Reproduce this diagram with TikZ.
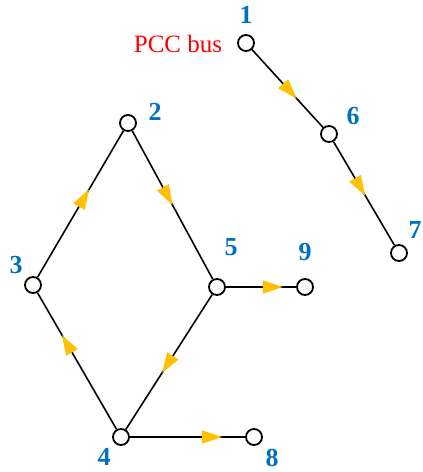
\documentclass[tikz,border=0pt]{standalone}
\usepackage{fontspec}
\setmainfont{Liberation Serif}
\usetikzlibrary{arrows.meta,decorations.markings}
\definecolor{numblue}{RGB}{0,112,192}
\definecolor{flowc}{RGB}{255,192,0}
\tikzset{
  bus/.style={circle,draw=black,line width=1.8pt,fill=white,minimum size=16pt,inner sep=0pt},
  num/.style={text=numblue,font=\fontsize{26}{26}\selectfont\bfseries,inner sep=0pt},
  line/.style={draw=black,line width=1.6pt},
  flowat/.style={postaction={decorate,decoration={markings,
     mark=at position #1 with {\arrow{Triangle[length=20pt,width=13pt,color=flowc,fill=flowc]}}}}}
}
\begin{document}
\begin{tikzpicture}[x=1pt,y=-1pt]
\useasboundingbox (0,0) rectangle (423,472);
% buses
\node[bus] (n1) at (246,43) {};
\node[bus] (n6) at (329,134) {};
\node[bus] (n7) at (399,253) {};
\node[bus] (n2) at (128,123) {};
\node[bus] (n3) at (33,285) {};
\node[bus] (n5) at (217,287) {};
\node[bus] (n9) at (305,287) {};
\node[bus] (n4) at (121,437) {};
\node[bus] (n8) at (254,437) {};
% connectors
\draw[line,flowat=0.63] (n1) -- (n6);
\draw[line,flowat=0.52] (n6) -- (n7);
\draw[line,flowat=0.60] (n3) -- (n2);
\draw[line,flowat=0.50] (n2) -- (n5);
\draw[line,flowat=0.58] (n5) -- (n4);
\draw[line,flowat=0.69] (n4) -- (n3);
\draw[line,flowat=0.80] (n4) -- (n8);
\draw[line,flowat=0.81] (n5) -- (n9);
% labels
\node[num] (l1) at (246,15) {1};
\node[text=red,font=\fontsize{25}{25}\selectfont,anchor=base,inner sep=0pt] (pcc) at (178,52) {PCC bus};
\node[num] (l6) at (353,116) {6};
\node[num] (l7) at (415,230) {7};
\node[num] (l2) at (155,112) {2};
\node[num] (l5) at (231,247) {5};
\node[num] (l9) at (305,252) {9};
\node[num] (l3) at (16,265) {3};
\node[num] (l4) at (104,457) {4};
\node[num] (l8) at (272,458) {8};
\end{tikzpicture}
\end{document}
